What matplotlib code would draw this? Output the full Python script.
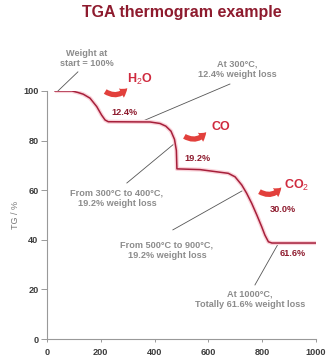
import numpy as np
import matplotlib
matplotlib.use("Agg")
import matplotlib.pyplot as plt

plt.rcParams['font.family'] = ['Liberation Sans', 'DejaVu Sans']
plt.rcParams['mathtext.fontset'] = 'custom'
plt.rcParams['mathtext.rm'] = 'Liberation Sans'

# curve: temperature (C) vs TG (%)
temp = [30, 93, 115, 135, 160, 185, 203, 216, 228, 383, 420, 442, 461, 474, 481, 483,
        569, 625, 674, 699, 724, 742, 761, 780, 798, 810, 823, 836, 1000]
tg = [100, 100, 99.4, 98.7, 97.1, 93.7, 90.3, 88.3, 87.6, 87.5, 86.9, 85.8, 83.8, 80.5, 76, 68.6,
      68.3, 67.5, 66.8, 65.4, 62.1, 58.8, 54.7, 50.0, 45.3, 41.9, 39.2, 38.7, 38.7]

xticks = [0, 200, 400, 600, 800, 1000]
yticks = [0, 20, 40, 60, 80, 100]

# grey notes: (text, text pos, leader start, leader end)
notes = [
    ("Weight at\nstart = 100%", (149, 113), (115, 107.7), (37, 99.6)),
    ("At 300\u00b0C,\n12.4% weight loss", (706, 108.7), (680, 102.8), (357, 87.9)),
    ("From 300\u00b0C to 400\u00b0C,\n19.2% weight loss", (260, 56.9), (297, 62.9), (476, 79)),
    ("From 500\u00b0C to 900\u00b0C,\n19.2% weight loss", (446, 35.9), (468, 44), (725, 59.7)),
    ("At 1000\u00b0C,\nTotally 61.6% weight loss", (755, 15.9), (773, 21.8), (859, 38.3)),
]
losses = ["12.4%", "19.2%", "30.0%", "61.6%"]
loss_pos = [(290, 91.2), (561, 72.6), (877, 52.4), (914, 34.3)]
gases = [r"H$_\mathrm{2}$O", "CO", r"CO$_\mathrm{2}$"]
gas_pos = [(345, 104.6), (647, 85.5), (929, 61.9)]
arrow_pos = [((208, 100.4), (305, 102)), ((502, 82.3), (598, 84.3)), ((781, 60), (877, 62))]

dark_red = '#8e1b2e'
grey = '#8c8c8c'

fig = plt.figure(figsize=(3.33, 3.60), dpi=100)
ax = fig.add_axes([0.141, 0.0583, 0.808, 0.689])

ax.plot(temp, tg, color='#fad3da', lw=3.0, solid_capstyle='butt', zorder=2)
ax.plot(temp, tg, color='#a61f3a', lw=1.1, zorder=3)

ax.set_xlim(0, 1000)
ax.set_ylim(0, 100)
ax.set_xticks(xticks)
ax.set_yticks(yticks)
for s in ['top', 'right']:
    ax.spines[s].set_visible(False)
for s in ['left', 'bottom']:
    ax.spines[s].set_color('#999999')
    ax.spines[s].set_linewidth(0.8)
ax.tick_params(axis='x', length=2.5, width=0.7, color='#999999', pad=4,
               labelsize=6.6, labelcolor='#3c3c3c')
ax.tick_params(axis='y', length=4, width=0.7, color='#999999', pad=2,
               labelsize=6.6, labelcolor='#3c3c3c')
for lb in ax.get_xticklabels() + ax.get_yticklabels():
    lb.set_fontweight('bold')
ax.set_ylabel("TG / %", fontsize=6.5, color='#777777', labelpad=2)

for txt, tp, p0, p1 in notes:
    ax.text(tp[0], tp[1], txt, ha='center', va='center', fontsize=6.6, fontweight='bold',
            color=grey, linespacing=1.2, clip_on=False, zorder=4)
    ax.plot([p0[0], p1[0]], [p0[1], p1[1]], color='#555555', lw=0.6, clip_on=False, zorder=1)

for txt, (x, y) in zip(losses, loss_pos):
    ax.text(x, y, txt, ha='center', va='center', fontsize=6.6, fontweight='bold',
            color=dark_red, clip_on=False, zorder=4)

for txt, (x, y) in zip(gases, gas_pos):
    ax.text(x, y, txt, ha='center', va='center', fontsize=9, fontweight='bold',
            color='#cf2a3e', clip_on=False, zorder=4)

for p0, p1 in arrow_pos:
    ax.annotate("", xy=p1, xytext=p0, annotation_clip=False,
                arrowprops=dict(arrowstyle="simple,head_width=0.75,head_length=0.55,tail_width=0.38",
                                connectionstyle="arc3,rad=0.5", color='#e2403c', lw=0))

fig.text(0.547, 0.965, "TGA thermogram example", ha='center', va='center',
         fontsize=11.5, fontweight='bold', color=dark_red)

fig.savefig("out.png", dpi=100)
